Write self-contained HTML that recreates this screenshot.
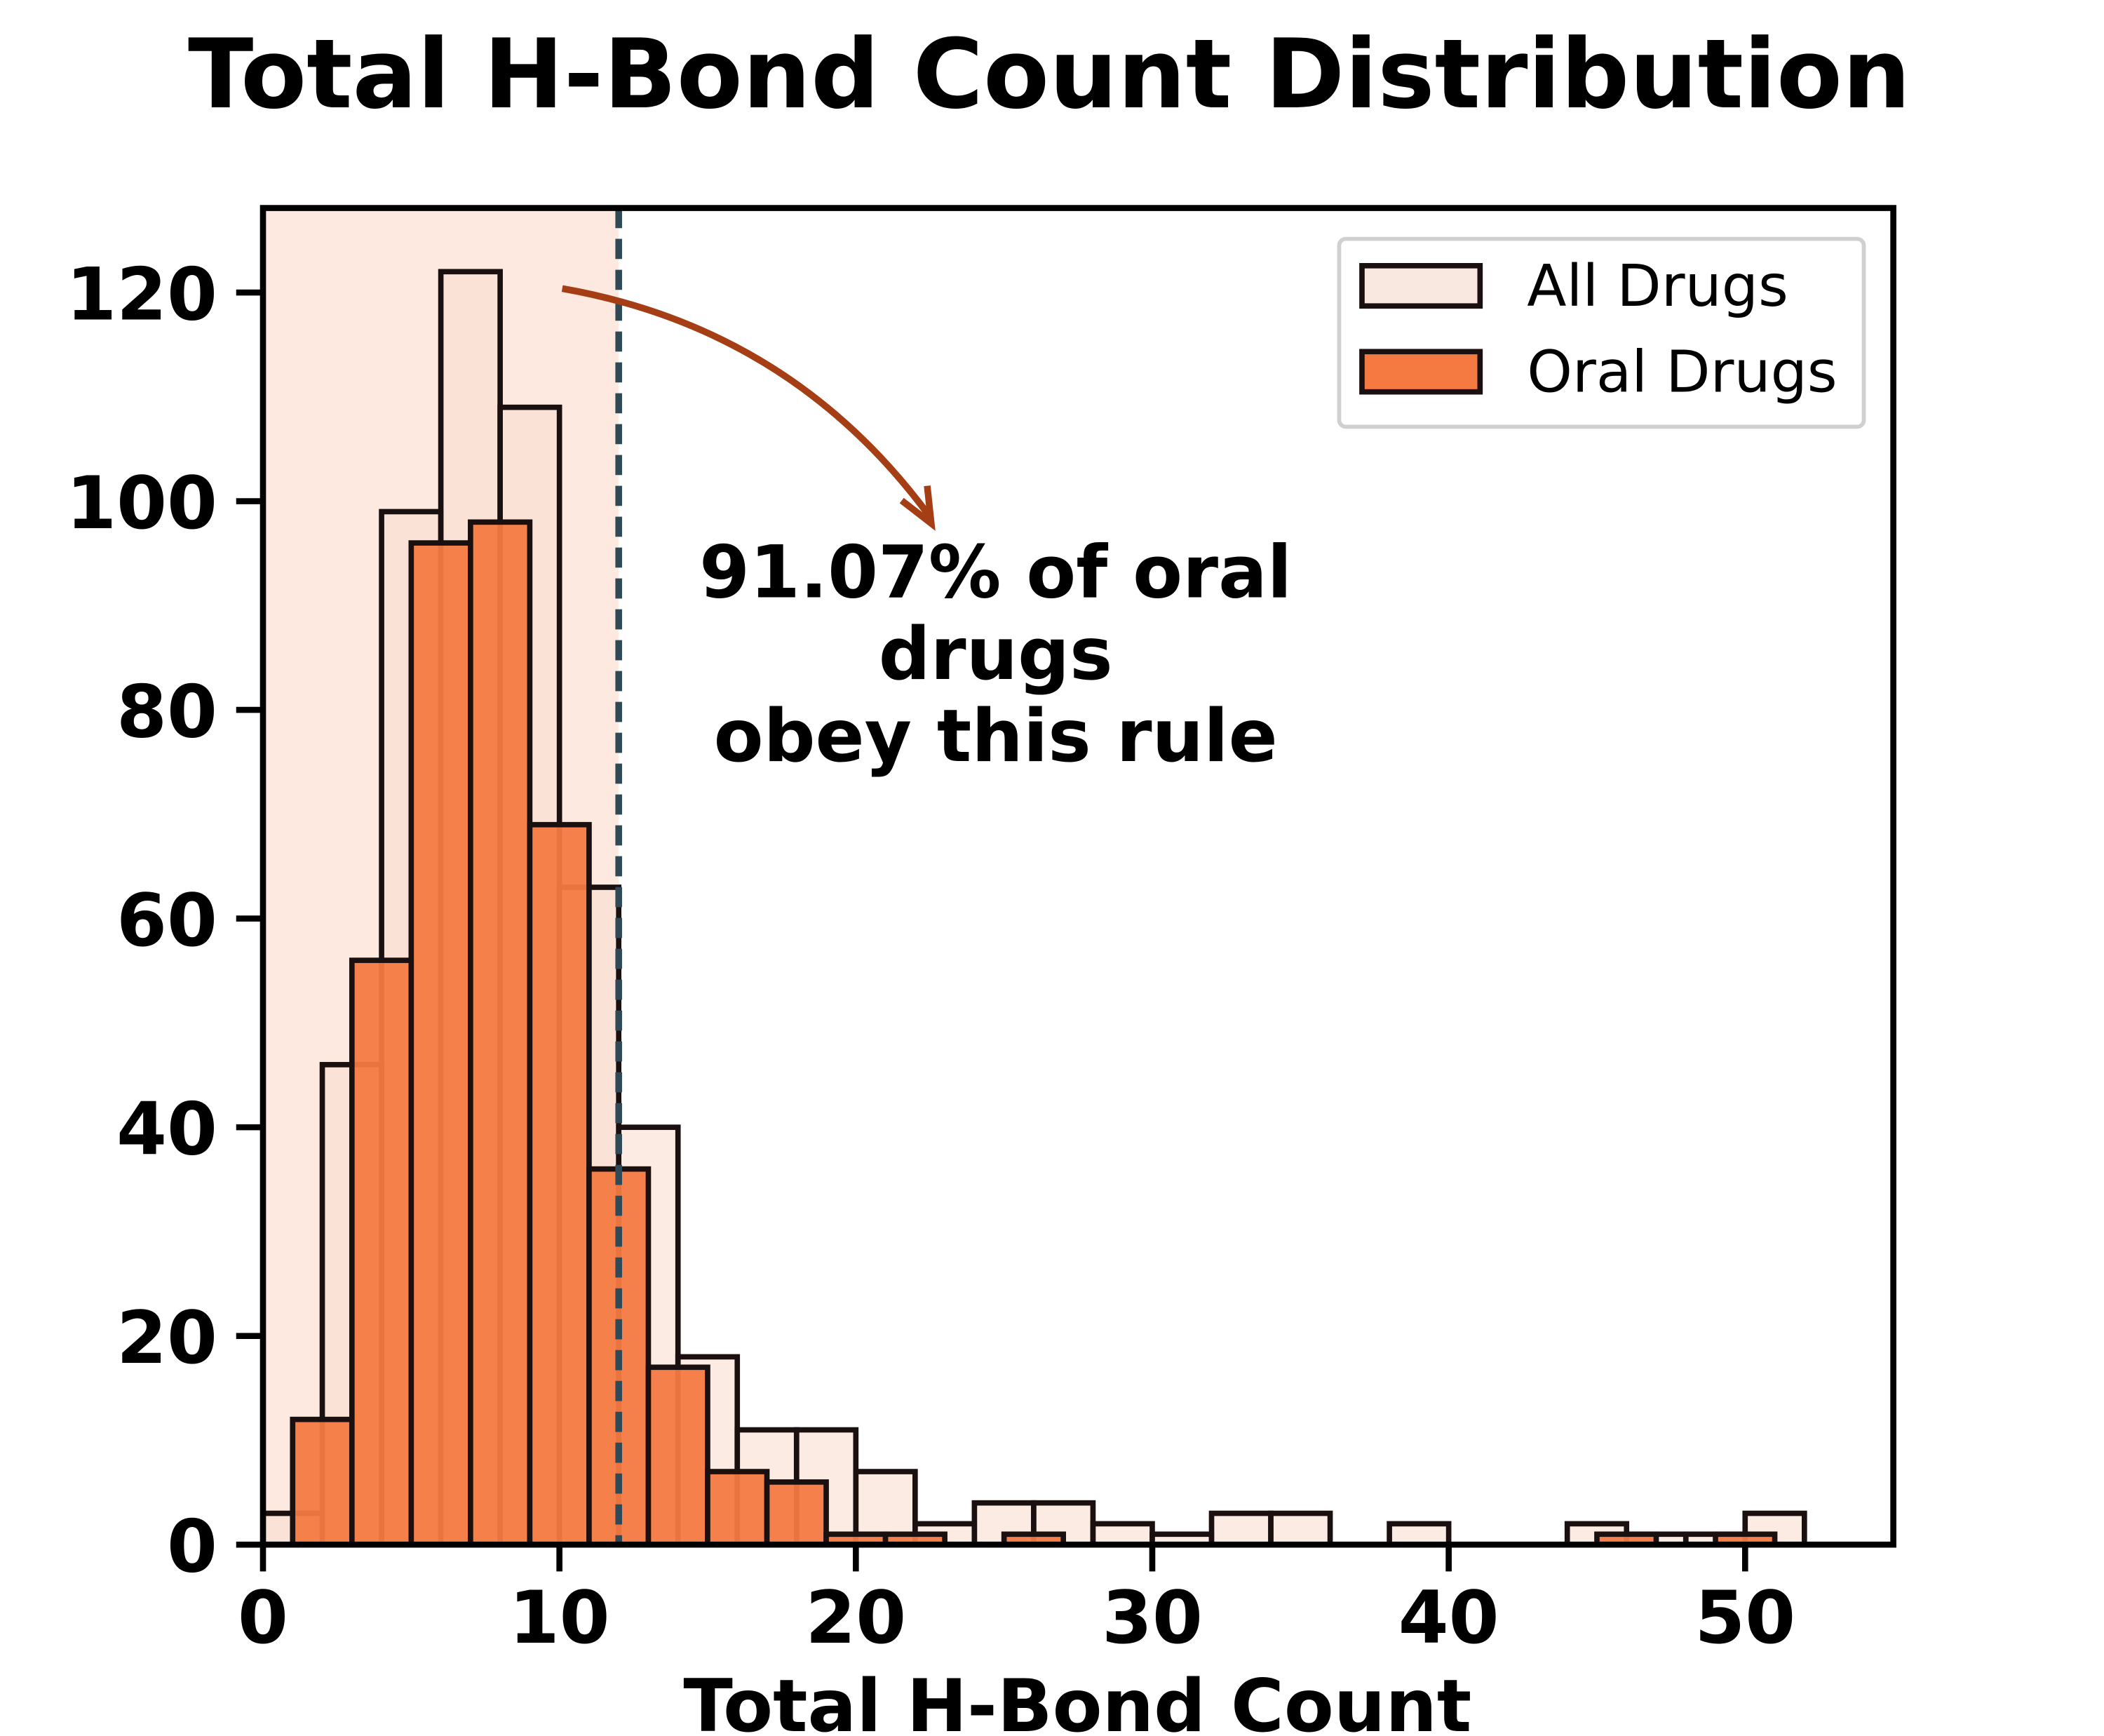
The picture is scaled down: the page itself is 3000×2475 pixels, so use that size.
<!DOCTYPE html>
<html><head><meta charset="utf-8"><style>
html,body{margin:0;padding:0;background:#fff;}
svg{display:block;font-family:"DejaVu Sans","Liberation Sans",sans-serif;}
</style></head><body>
<svg id="chart" width="3000" height="2475" viewBox="0 0 1568 1293.6" xmlns="http://www.w3.org/2000/svg">
<rect width="1568" height="1293.6" fill="#fff"/>
<text x="782" y="80" text-anchor="middle" font-size="71.5" font-weight="bold">Total H-Bond Count Distribution</text>
<g id="plot"></g>
</svg>
<script>
const allEdgesStart = 0;
const binWidth = 2;
const allCounts = [3,46,99,122,109,63,40,18,11,11,7,2,4,4,2,1,3,3,0,2,0,0,2,1,1,3];
const oralEdgesStart = 1;
const oralCounts = [12,56,96,98,69,36,17,7,6,1,1,0,1,0,0,0,0,0,0,0,0,0,1,0,1];
const xTicks = [0,10,20,30,40,50];
const yTicks = [0,20,40,60,80,100,120];
const threshold = 12;

const L=196,R=1411,T=155,B=1151,xmin=0,xmax=55,ymin=0,ymax=128.1;
const xs=v=>L+(v-xmin)/(xmax-xmin)*(R-L);
const ys=v=>B-(v-ymin)/(ymax-ymin)*(B-T);
const NS="http://www.w3.org/2000/svg";
const g=document.getElementById('plot');
function mk(tag,attrs,parent){const e=document.createElementNS(NS,tag);for(const k in attrs)e.setAttribute(k,attrs[k]);(parent||g).appendChild(e);return e;}

const shade=mk('rect',{x:xs(0),y:T,width:xs(threshold)-xs(0),height:B-T,fill:'#fde9df'});



allCounts.forEach((c,i)=>{ if(!c) return;
  const x0=allEdgesStart+i*binWidth;
  const r=mk('rect',{x:xs(x0),y:ys(c),width:xs(x0+binWidth)-xs(x0),height:ys(0)-ys(c),fill:'#f9ddd0','fill-opacity':0.6,stroke:'#1a1010','stroke-width':4});
  
  
});
oralCounts.forEach((c,i)=>{ if(!c) return;
  const x0=oralEdgesStart+i*binWidth;
  const r=mk('rect',{x:xs(x0),y:ys(c),width:xs(x0+binWidth)-xs(x0),height:ys(0)-ys(c),fill:'#f47a42','fill-opacity':0.95,stroke:'#1a1010','stroke-width':4});
  
  
});

const dl=mk('line',{x1:xs(threshold),x2:xs(threshold),y1:T,y2:B,stroke:'#2f4a56','stroke-width':5,'stroke-dasharray':'15,8'});



const frame=mk('rect',{x:L,y:T,width:R-L,height:B-T,fill:'none',stroke:'#000','stroke-width':4.5});



xTicks.forEach(v=>{
  const t=mk('line',{x1:xs(v),x2:xs(v),y1:B,y2:B+20,stroke:'#000','stroke-width':4.5});
  
  
  const l=mk('text',{x:xs(v),y:B+73,'text-anchor':'middle','font-size':54,'font-weight':'bold'});
  l.textContent=v;
  
  
});
yTicks.forEach(v=>{
  const t=mk('line',{x1:L-20,x2:L,y1:ys(v),y2:ys(v),stroke:'#000','stroke-width':4.5});
  
  
  const l=mk('text',{x:L-34,y:ys(v)+20,'text-anchor':'end','font-size':54,'font-weight':'bold'});
  l.textContent=v;
  
  
});
const xt=mk('text',{x:803,y:1290,'text-anchor':'middle','font-size':54,'font-weight':'bold'});
xt.textContent='Total H-Bond Count';



const arrow=mk('path',{d:'M419,215 Q590,245 693,385',fill:'none',stroke:'#a53e14','stroke-width':5});


const head=mk('path',{d:'M672,373 L694,390 L691,362',fill:'none',stroke:'#a53e14','stroke-width':5});


[['91.07% of oral',445],['drugs',506],['obey this rule',567]].forEach(([s,y])=>{
  const t=mk('text',{x:742,y:y,'text-anchor':'middle','font-size':54,'font-weight':'bold'});
  t.textContent=s;
  
  
});

const lg=mk('g',{});


mk('rect',{x:998,y:178,width:391,height:140,rx:5,fill:'#fff','fill-opacity':0.85,stroke:'#d0d0d0','stroke-width':3},lg);
const s1=mk('rect',{x:1015,y:198,width:88,height:30,fill:'#f9e8e0',stroke:'#1a1010','stroke-width':4},lg);


const t1=mk('text',{x:1138,y:228,'font-size':43},lg);t1.textContent='All Drugs';


const s2=mk('rect',{x:1015,y:262,width:88,height:30,fill:'#f47a42',stroke:'#1a1010','stroke-width':4},lg);


const t2=mk('text',{x:1138,y:292,'font-size':43},lg);t2.textContent='Oral Drugs';


</script>
</body></html>
